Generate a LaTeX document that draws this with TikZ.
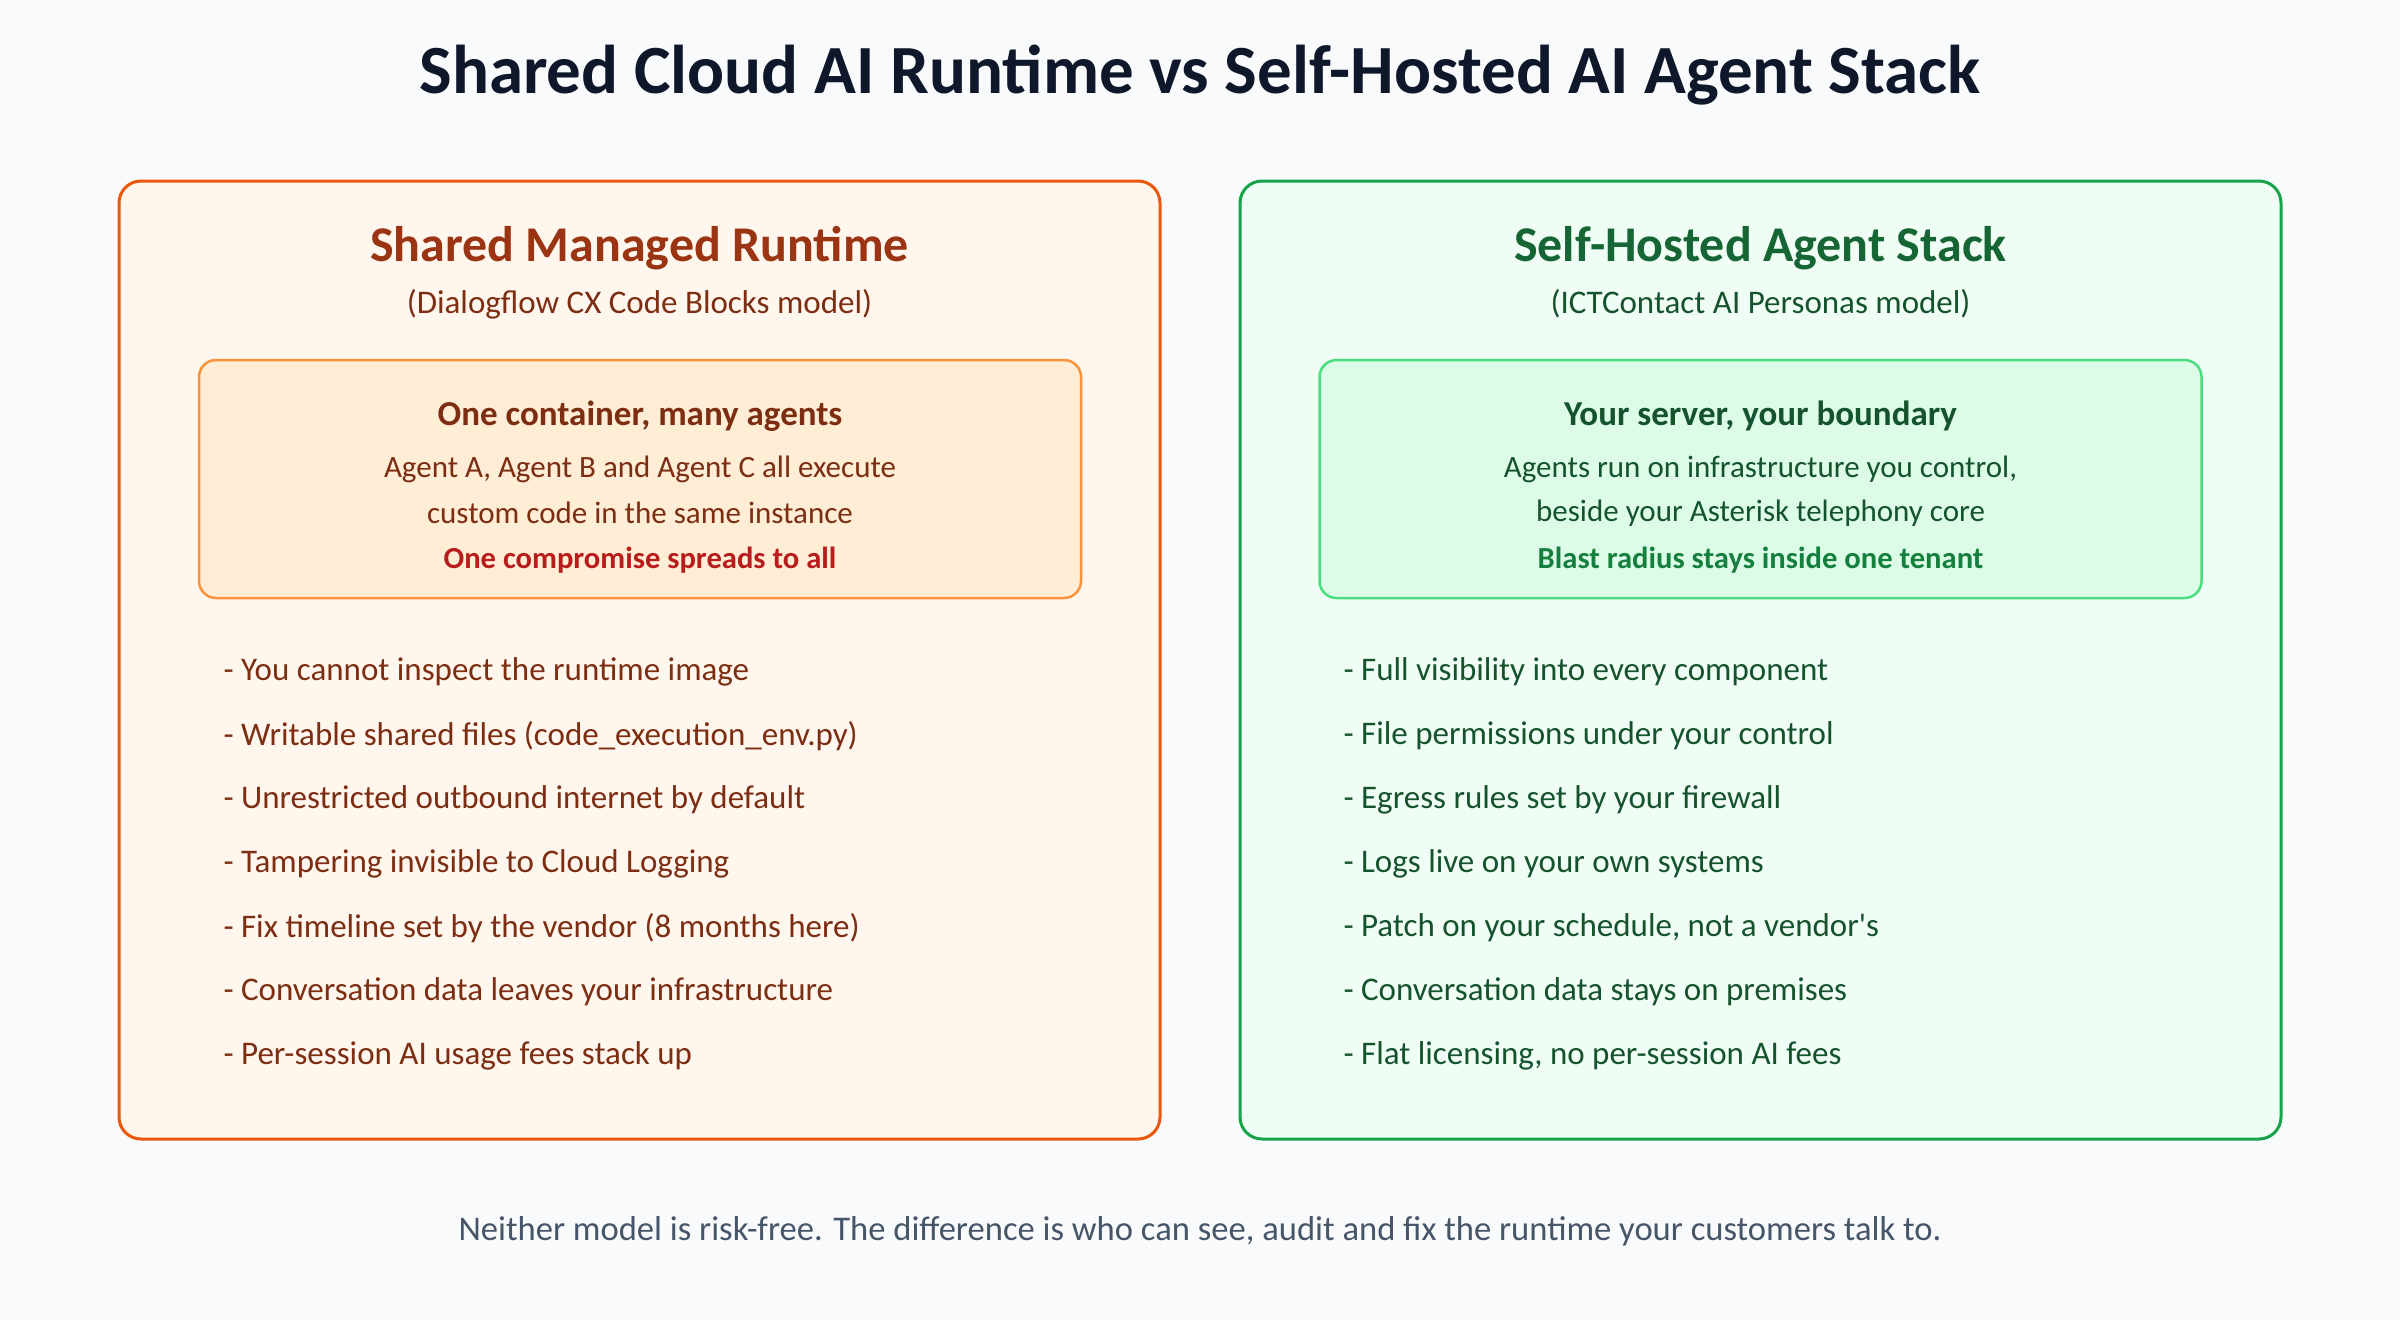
\documentclass[tikz,border=0pt]{standalone}
\usepackage{fontspec}
\setmainfont{Carlito}
\usetikzlibrary{positioning}

\definecolor{bgcol}{HTML}{F8FAFC}
\definecolor{titlecol}{HTML}{0F172A}
\definecolor{footcol}{HTML}{475569}
\definecolor{orline}{HTML}{EA580C}
\definecolor{orfill}{HTML}{FFF7ED}
\definecolor{ortitle}{HTML}{9A3412}
\definecolor{ortext}{HTML}{7C2D12}
\definecolor{orinfill}{HTML}{FFEDD5}
\definecolor{orinline}{HTML}{FB923C}
\definecolor{redtext}{HTML}{B91C1C}
\definecolor{grline}{HTML}{16A34A}
\definecolor{grfill}{HTML}{F0FDF4}
\definecolor{grtitle}{HTML}{166534}
\definecolor{grtext}{HTML}{14532D}
\definecolor{grinfill}{HTML}{DCFCE7}
\definecolor{grinline}{HTML}{4ADE80}
\definecolor{grstrong}{HTML}{15803D}

\tikzset{
  panel/.style={draw, rounded corners=22pt, line width=3pt, minimum width=1041pt, minimum height=958pt, inner sep=0pt},
  innerbox/.style={draw, rounded corners=17pt, line width=2.5pt, minimum width=882pt, minimum height=238pt, inner sep=0pt},
  paneltitle/.style={font=\fontsize{50}{56}\selectfont\bfseries},
  subtitle/.style={font=\fontsize{33}{38}\selectfont},
  boxtitle/.style={font=\fontsize{35}{40}\selectfont\bfseries},
  boxline/.style={font=\fontsize{31}{36}\selectfont},
  boxstrong/.style={font=\fontsize{30.6}{36}\selectfont\bfseries},
  bullet/.style={anchor=west, font=\fontsize{33}{38}\selectfont}
}

\begin{document}
\begin{tikzpicture}[x=1pt, y=-1pt]
\fill[bgcol] (0,0) rectangle (2400,1320);
\useasboundingbox (0,0) rectangle (2400,1320);

% heading
\node[titlecol, font=\fontsize{69}{76}\selectfont\bfseries] (title) at (1200,75) {Shared Cloud AI Runtime vs Self-Hosted AI Agent Stack};

% shared managed runtime
\node[panel, draw=orline, fill=orfill] (lpanel) at (639.5,660) {};
\node[paneltitle, ortitle] (ltitle) at (639.5,248) {Shared Managed Runtime};
\node[subtitle, ortext] (lsub) at (639.5,304) {(Dialogflow CX Code Blocks model)};
\node[innerbox, draw=orinline, fill=orinfill] (lbox) at (640,479) {};
\node[boxtitle, ortext] (lboxt) at (640,416) {One container, many agents};
\node[boxline, ortext] (lboxa) at (640,469) {Agent A, Agent B and Agent C all execute};
\node[boxline, ortext] (lboxb) at (640,513) {custom code in the same instance};
\node[boxstrong, redtext] (lboxc) at (640,560) {One compromise spreads to all};
\foreach \txt [count=\i] in {{You cannot inspect the runtime image},
  {Writable shared files (code\_execution\_env.py)},
  {Unrestricted outbound internet by default},
  {Tampering invisible to Cloud Logging},
  {Fix timeline set by the vendor (8 months here)},
  {Conversation data leaves your infrastructure},
  {Per-session AI usage fees stack up}}
  \node[bullet, ortext] (lbul\i) at (220,608+64*\i) {- \txt};

% self-hosted agent stack
\node[panel, draw=grline, fill=grfill] (rpanel) at (1760.5,660) {};
\node[paneltitle, grtitle] (rtitle) at (1760.5,248) {Self-Hosted Agent Stack};
\node[subtitle, grtext] (rsub) at (1760.5,304) {(ICTContact AI Personas model)};
\node[innerbox, draw=grinline, fill=grinfill] (rbox) at (1760.5,479) {};
\node[boxtitle, grtext] (rboxt) at (1760.5,416) {Your server, your boundary};
\node[boxline, grtext] (rboxa) at (1760.5,469) {Agents run on infrastructure you control,};
\node[boxline, grtext] (rboxb) at (1760.5,513) {beside your Asterisk telephony core};
\node[boxstrong, grstrong] (rboxc) at (1760.5,560) {Blast radius stays inside one tenant};
\foreach \txt [count=\i] in {{Full visibility into every component},
  {File permissions under your control},
  {Egress rules set by your firewall},
  {Logs live on your own systems},
  {Patch on your schedule, not a vendor\textquotesingle s},
  {Conversation data stays on premises},
  {Flat licensing, no per-session AI fees}}
  \node[bullet, grtext] (rbul\i) at (1340,608+64*\i) {- \txt};

% footer
\node[footcol, font=\fontsize{34.6}{40}\selectfont] (foot) at (1200,1231) {Neither model is risk-free. The difference is who can see, audit and fix the runtime your customers talk to.};
\end{tikzpicture}
\end{document}
